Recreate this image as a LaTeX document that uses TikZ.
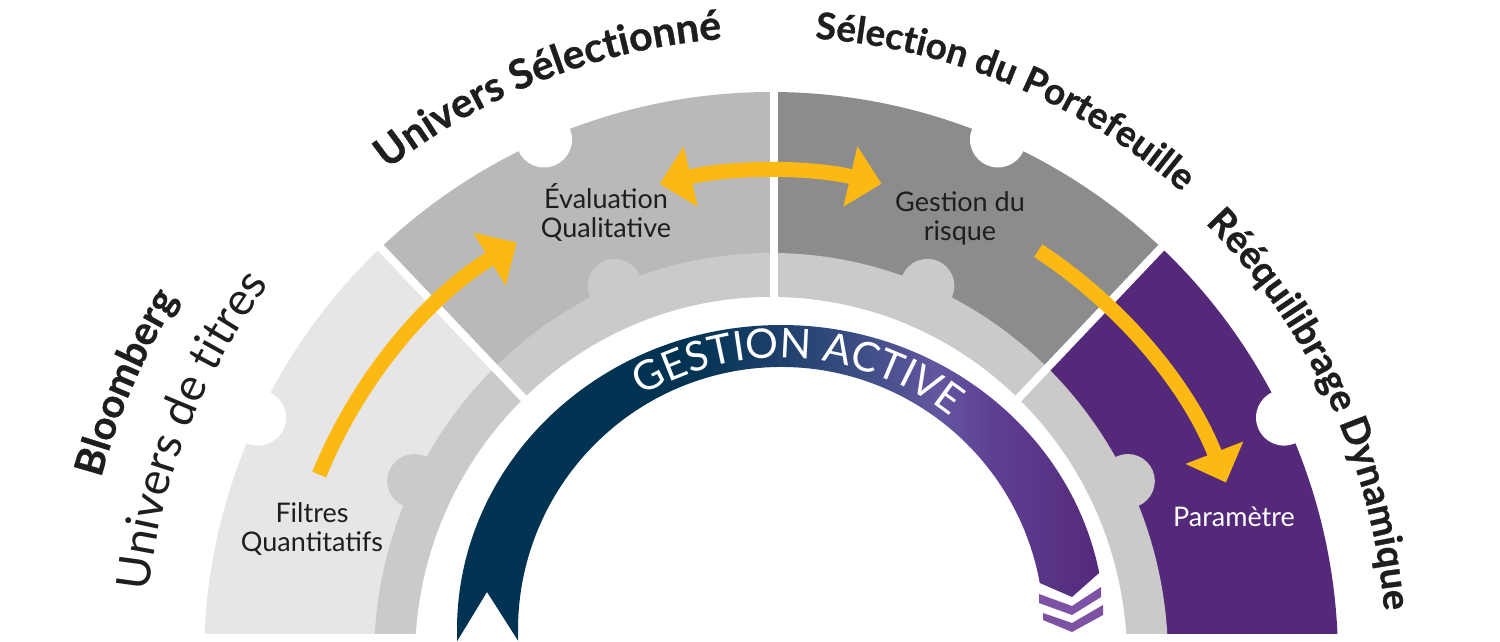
\documentclass[tikz,border=0pt]{standalone}
\usepackage{fontspec}
\setmainfont{Lato}
\newfontfamily\heavyfont{Lato}[BoldFeatures={FakeBold=0.8}]
\usetikzlibrary{calc,arrows.meta,decorations.text}
\definecolor{segA}{HTML}{E6E6E6}
\definecolor{segB}{HTML}{B9B9B9}
\definecolor{segC}{HTML}{8C8C8C}
\definecolor{segD}{HTML}{55297A}
\definecolor{ringgray}{HTML}{CBCAC8}
\definecolor{navy}{HTML}{003352}
\definecolor{rbA}{HTML}{1C3F69}
\definecolor{rbB}{HTML}{3F4F87}
\definecolor{rbC}{HTML}{6456A0}
\definecolor{rbD}{HTML}{5E3F92}
\definecolor{chevcol}{HTML}{7D51A3}
\definecolor{arrowyellow}{HTML}{FDB913}
\definecolor{ink}{HTML}{1E1E1E}
\pgfdeclarehorizontalshading{ribbonshade}{100bp}{color(0bp)=(navy); color(25bp)=(navy); color(43bp)=(navy); color(50bp)=(rbA); color(57bp)=(rbB); color(62.5bp)=(rbC); color(67bp)=(rbD); color(75bp)=(segD); color(100bp)=(segD)}
\newcommand\titlefnt{\fontsize{38}{40}\selectfont\heavyfont\bfseries\color{ink}}
\newcommand\titlefntL{\fontsize{41}{43}\selectfont\heavyfont\bfseries\color{ink}}
\newcommand\titlefntS{\fontsize{37}{39}\selectfont\heavyfont\bfseries\color{ink}}
\newcommand\bloomfnt{\fontsize{40}{42}\selectfont\heavyfont\bfseries\color{ink}}
\newcommand\univfnt{\fontsize{46}{48}\selectfont\color{ink}}
\newcommand\gestfnt{\fontsize{41}{43}\selectfont\color{white}}
\begin{document}
\begin{tikzpicture}[x=1pt,y=1pt,
  arr/.style={draw=arrowyellow,line width=15pt,line cap=butt,-{Triangle[length=32pt,width=60pt]}},
  arrboth/.style={draw=arrowyellow,line width=15pt,line cap=butt,{Triangle[length=32pt,width=60pt]}-{Triangle[length=32pt,width=60pt]}},
  lbl/.style={align=center,font=\fontsize{27}{29}\selectfont,text=ink,inner sep=0pt},
  chev/.style={fill=chevcol},
  divider/.style={draw=white,line width=8pt}]
\path[use as bounding box,fill=white] (0,0) rectangle (1500,641);
\coordinate (C) at (771,-18);
\coordinate (RC) at (781,11);
% ---- segments ----
\begin{scope}
\clip (0,8) rectangle (1500,641);
\fill[segA] (C) -- ($(C)+(133.5:567)$) arc[start angle=133.5,end angle=180,radius=567] -- cycle;
\fill[segB] (C) -- ($(C)+(90:567)$) arc[start angle=90,end angle=133.5,radius=567] -- cycle;
\fill[segC] (C) -- ($(C)+(46.5:567)$) arc[start angle=46.5,end angle=90,radius=567] -- cycle;
\fill[segD] (C) -- ($(C)+(0:567)$) arc[start angle=0,end angle=46.5,radius=567] -- cycle;
\fill[ringgray] (C) -- ($(C)+(0:397 and 406)$) arc[start angle=0,end angle=180,x radius=397,y radius=406] -- cycle;
\foreach \a in {154,113.2,66.8,26} \fill[ringgray] ($(C)+(\a:397 and 406)$) circle[radius=27];
\fill[white] (C) -- ($(C)+(0:356 and 362)$) arc[start angle=0,end angle=180,x radius=356,y radius=362] -- cycle;
\foreach \a in {154.8,113.6,66.4,25.2} \fill[white] ($(C)+(\a:567)$) circle[radius=28];
\foreach \a in {133.5,46.5} \draw[divider] ($(C)+(\a:340)$) -- ($(C)+(\a:600)$);
\draw[divider] (774,300) -- (774,600);
\end{scope}
% ---- ribbon ----
\coordinate (rbL) at ($(RC)+(182.07:324 and 305)$);
\coordinate (rbV) at (1072,44);
\coordinate (rbI) at ($(RC)+(10.3:263)$);
\coordinate (rbN) at (487,49);
\shade[shading=ribbonshade] (rbL) arc[start angle=182.07,end angle=10.8,x radius=324,y radius=305] -- (rbV) -- (rbI) arc[start angle=10.3,end angle=182.4,radius=263] -- (rbN) -- cycle;
\fill[chev] (1039,47) -- (1072,35) -- (1101,54) -- (1101,44) -- (1072,26) -- (1039,38) -- cycle;
\fill[chev] (1043,28) -- (1072,18) -- (1103,36) -- (1103,26) -- (1072,9) -- (1043,21) -- cycle;
% ---- arrows ----
\coordinate (a1s) at ($(C)+(157.8:488)$);
\coordinate (a2s) at ($(C)+(103.2:488)$);
\coordinate (a3s) at ($(C)+(56.8:488)$);
\draw[arr] (a1s) arc[start angle=157.8,end angle=121.4,radius=488];
\draw[arrboth] (a2s) arc[start angle=103.2,end angle=76.9,radius=488];
\draw[arr] (a3s) arc[start angle=56.8,end angle=21.2,radius=488];
% ---- labels ----
\node[lbl] (filtres) at (312,112) {Filtres\\Quantitatifs};
\node[lbl] (evaluation) at (606,429) {Évaluation\\Qualitative};
\node[lbl] (gestion) at (960,423) {Gestion du\\risque};
\node[lbl,text=white,anchor=base] (parametre) at (1234,115) {Paramètre};
% ---- curved titles ----
\coordinate (t1) at ($(C)+(141.3:622)$);
\coordinate (t2) at ($(C)+(97.3:622)$);
\coordinate (t3) at ($(C)+(64.8:615)$);
\coordinate (t4) at ($(C)+(188.5:626)$);
\coordinate (t5) at ($(C)+(186.8:694)$);
\coordinate (t6) at ($(RC)+(146.1:272)$);
\path[decorate,decoration={text along path,text align=center,text={|\titlefntL|Univers Sélectionné}}] (t1) arc[start angle=141.3,end angle=81.3,radius=622];
\path[decorate,decoration={text along path,text align=center,text={|\titlefntS|Sélection du Portefeuille}}] (t2) arc[start angle=97.3,end angle=37.3,radius=622];
\path[decorate,decoration={text along path,text align=center,text={|\titlefnt|Rééquilibrage Dynamique}}] (t3) arc[start angle=64.8,end angle=-15.2,radius=615];
\path[decorate,decoration={text along path,text align=center,text={|\univfnt|Univers de titres}}] (t4) arc[start angle=188.5,end angle=128.5,radius=626];
\path[decorate,decoration={text along path,text align=center,text={|\bloomfnt|Bloomberg}}] (t5) arc[start angle=186.8,end angle=126.8,radius=694];
\path[decorate,decoration={text along path,text align=center,text={|\gestfnt|GESTION ACTIVE}}] (t6) arc[start angle=146.1,end angle=26.1,radius=272];
\end{tikzpicture}
\end{document}
